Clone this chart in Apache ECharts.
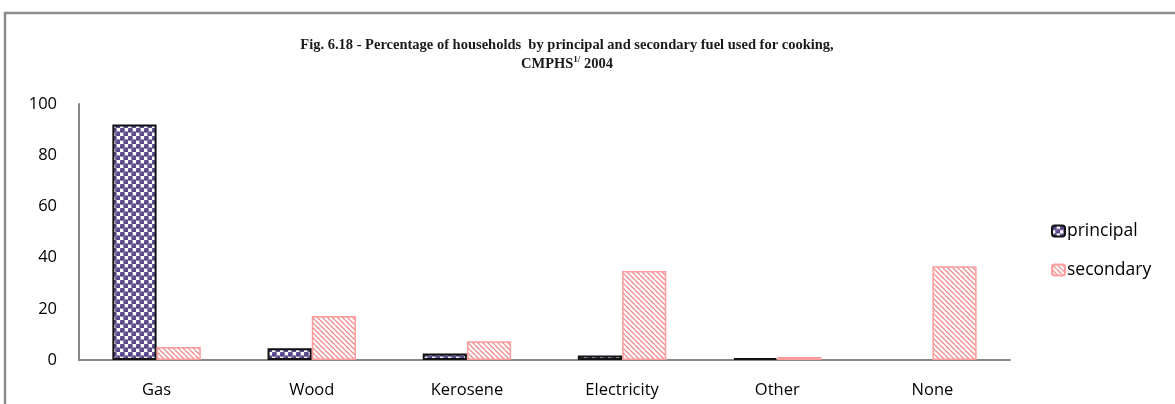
<!DOCTYPE html>
<html>
<head>
<meta charset="utf-8">
<script src="https://cdn.jsdelivr.net/npm/echarts@6/dist/echarts.min.js"></script>
<style>
  html, body { margin: 0; padding: 0; background: #fff; }
  #chart { width: 1175px; height: 404px; }
</style>
</head>
<body>
<div id="chart"></div>
<script>
// Cooking fuel categories and percentages of households
const categories = ['Gas', 'Wood', 'Kerosene', 'Electricity', 'Other', 'None'];
const principalValues = [92, 4.6, 2.5, 1.8, 0.7, 0];
const secondaryValues = [5.1, 17.2, 7.3, 34.8, 1.2, 36.6];
const seriesNames = ['principal', 'secondary'];
const yTicks = { min: 0, max: 100, interval: 20 };

// Purple sphere pattern for the principal fuel bars
function spherePattern() {
  const c = document.createElement('canvas');
  c.width = 8; c.height = 8;
  const g = c.getContext('2d');
  g.fillStyle = '#ffffff';
  g.fillRect(0, 0, 8, 8);
  const dots = [[2, 2], [6, 6]];
  dots.forEach(([x, y]) => {
    g.fillStyle = '#5a4789';
    g.beginPath(); g.arc(x, y, 2.8, 0, Math.PI * 2); g.fill();
    g.fillStyle = '#a99dc9';
    g.fillRect(x - 1.5, y - 1.5, 1, 1);
  });
  return c;
}

// Pink diagonal hatching for the secondary fuel bars
function hatchPattern() {
  const c = document.createElement('canvas');
  c.width = 5; c.height = 5;
  const g = c.getContext('2d');
  g.fillStyle = '#ffffff';
  g.fillRect(0, 0, 5, 5);
  g.strokeStyle = '#f08a8a';
  g.lineWidth = 1.3;
  [-5, 0, 5].forEach(o => {
    g.beginPath(); g.moveTo(o, 0); g.lineTo(o + 5, 5); g.stroke();
  });
  return c;
}

// Zero-height bars get no outline so an empty category stays blank
function barData(values) {
  return values.map(v => (v === 0 ? { value: v, itemStyle: { borderWidth: 0 } } : v));
}

const labelFont = 'Open Sans';
const chart = echarts.init(document.getElementById('chart'), null, { renderer: 'canvas' });

chart.setOption({
  animation: false,
  backgroundColor: '#ffffff',
  title: {
    text: 'Fig. 6.18 - Percentage of households  by principal and secondary fuel used for cooking,\nCMPHS{sup|1/} 2004',
    left: 562,
    top: 31,
    textAlign: 'center',
    textStyle: {
      fontFamily: 'Liberation Serif',
      fontWeight: 'bold',
      fontSize: 14.5,
      color: '#1a1a1a',
      lineHeight: 19,
      rich: {
        sup: { fontFamily: 'Liberation Serif', fontWeight: 'bold', fontSize: 9, verticalAlign: 'top', padding: [0, 0, 6, 0], color: '#1a1a1a' }
      }
    }
  },
  graphic: [{
    type: 'rect',
    shape: { x: 5, y: 13, width: 1300, height: 600 },
    style: { fill: 'none', stroke: '#8c8c8c', lineWidth: 2.5 },
    silent: true,
    z: -1
  }],
  legend: {
    orient: 'vertical',
    left: 1046,
    top: 217,
    itemWidth: 13,
    itemHeight: 11,
    itemGap: 21,
    data: seriesNames,
    textStyle: { fontFamily: labelFont, fontSize: 17.5, color: '#000', padding: [0, 0, 0, -3] }
  },
  grid: { left: 79, right: 165, top: 104, bottom: 44, containLabel: false },
  xAxis: {
    type: 'category',
    data: categories,
    axisLine: { lineStyle: { color: '#868686', width: 2 } },
    axisTick: { show: false },
    axisLabel: { fontFamily: labelFont, fontSize: 16.5, color: '#000', margin: 22 }
  },
  yAxis: {
    type: 'value',
    min: yTicks.min,
    max: yTicks.max,
    interval: yTicks.interval,
    axisLine: { show: true, lineStyle: { color: '#868686', width: 2 } },
    axisTick: { show: false },
    splitLine: { show: false },
    axisLabel: { fontFamily: labelFont, fontSize: 16.5, color: '#000', margin: 22 }
  },
  series: [
    {
      name: seriesNames[0],
      type: 'bar',
      data: barData(principalValues),
      barGap: '0%',
      barCategoryGap: '43%',
      itemStyle: {
        color: { image: spherePattern(), repeat: 'repeat' },
        borderColor: '#111111',
        borderWidth: 2
      }
    },
    {
      name: seriesNames[1],
      type: 'bar',
      data: barData(secondaryValues),
      barGap: '0%',
      barCategoryGap: '43%',
      itemStyle: {
        color: { image: hatchPattern(), repeat: 'repeat' },
        borderColor: '#ff9d9d',
        borderWidth: 1.5
      }
    }
  ]
});
</script>
</body>
</html>
